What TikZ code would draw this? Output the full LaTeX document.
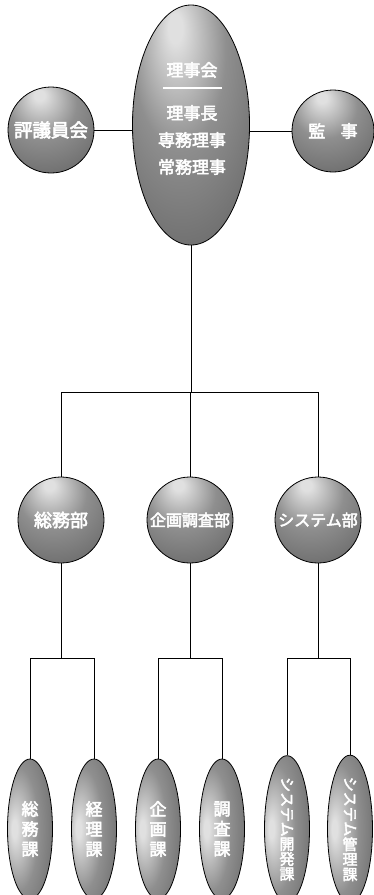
\documentclass[tikz,border=0pt]{standalone}
\usepackage{fontspec}
\usepackage{graphicx}
\usetikzlibrary{shapes.geometric}
\newfontfamily\cjk[FakeBold=3]{Noto Sans CJK JP}
\definecolor{hlg}{gray}{0.88}
\definecolor{midg}{gray}{0.56}
\definecolor{darkg}{gray}{0.36}
\pgfdeclareradialshading{orb}{\pgfpoint{-7bp}{21bp}}{color(0bp)=(hlg); color(3bp)=(hlg); color(20bp)=(midg); color(48bp)=(darkg); color(75bp)=(darkg)}
\pgfdeclareradialshading{pod}{\pgfpoint{-18bp}{0bp}}{color(0bp)=(hlg); color(3bp)=(hlg); color(22bp)=(midg); color(50bp)=(darkg); color(75bp)=(darkg)}
\tikzset{
  orbnode/.style={circle, draw=black, line width=0.8pt, shade, shading=orb, inner sep=0pt, minimum size=86pt, text=white},
  topnode/.style={ellipse, draw=black, line width=0.8pt, shade, shading=orb, inner sep=0pt, minimum width=117pt, minimum height=240pt},
  podnode/.style={ellipse, draw=black, line width=0.8pt, shade, shading=pod, inner sep=0pt, minimum width=45pt, minimum height=140pt, text=white, align=center},
  lbl/.style={text=white, inner sep=0pt, align=center},
  link/.style={draw=black, line width=1pt},
}
\begin{document}
\begin{tikzpicture}[x=1pt,y=-1pt]
\useasboundingbox (0,0) rectangle (373,895);
% top level
\node[topnode] (top) at (191,125) {};
\node[lbl, font=\cjk\fontsize{17}{17}\selectfont] (t1) at (192,70) {理事会};
\draw[white, line width=1.6pt] (163,88) -- (222,88);
\node[lbl, font=\cjk\fontsize{17}{27}\selectfont] (t2) at (192,140) {理事長\\専務理事\\常務理事};
\node[orbnode, font=\cjk\fontsize{18.5}{18.5}\selectfont] (hyo) at (51,130) {評議員会};
\node[orbnode, minimum size=82pt, font=\cjk\fontsize{17}{17}\selectfont] (kan) at (333,131) {監\hspace{0.9em}事};
\draw[link] (hyo.east) -- (hyo.east -| top.west);
\draw[link] (kan.west) -- (kan.west -| top.east);
% departments
\node[orbnode, font=\cjk\fontsize{18}{18}\selectfont] (bu) at (61,520) {総務部};
\node[orbnode, font=\cjk\fontsize{16}{16}\selectfont] (ki) at (190,520) {企画調査部};
\node[orbnode, font=\cjk\fontsize{16}{16}\selectfont] (sy) at (318,520) {システム部};
\coordinate (j1) at (190,392);
\draw[link] (top.south) -- (top.south |- j1);
\draw[link] (bu.north) -- (bu.north |- j1) -- (sy.north |- j1) -- (sy.north);
\draw[link] (ki.north) -- (ki.north |- j1);
% sections
\coordinate (j2) at (0,658);
\node[podnode, font=\cjk\fontsize{17}{20}\selectfont] (s1) at (30,829) {総\\務\\課};
\node[podnode, font=\cjk\fontsize{17}{20}\selectfont] (s2) at (94,829) {経\\理\\課};
\node[podnode, font=\cjk\fontsize{17}{20}\selectfont] (s3) at (158,829) {企\\画\\課};
\node[podnode, font=\cjk\fontsize{17}{20}\selectfont] (s4) at (222,829) {調\\査\\課};
\node[podnode, font=\cjk\fontsize{15}{15}\selectfont] (s5) at (287,829) {\rotatebox{-90}{システム}\\開\\発\\課};
\node[podnode, font=\cjk\fontsize{15}{15}\selectfont] (s6) at (350,829) {\rotatebox{-90}{システム}\\管\\理\\課};
\draw[link] (bu.south) -- (bu.south |- j2);
\draw[link] (s1.north) -- (s1.north |- j2) -- (s2.north |- j2) -- (s2.north);
\draw[link] (ki.south) -- (ki.south |- j2);
\draw[link] (s3.north) -- (s3.north |- j2) -- (s4.north |- j2) -- (s4.north);
\draw[link] (sy.south) -- (sy.south |- j2);
\draw[link] (s5.north) -- (s5.north |- j2) -- (s6.north |- j2) -- (s6.north);
\end{tikzpicture}
\end{document}
